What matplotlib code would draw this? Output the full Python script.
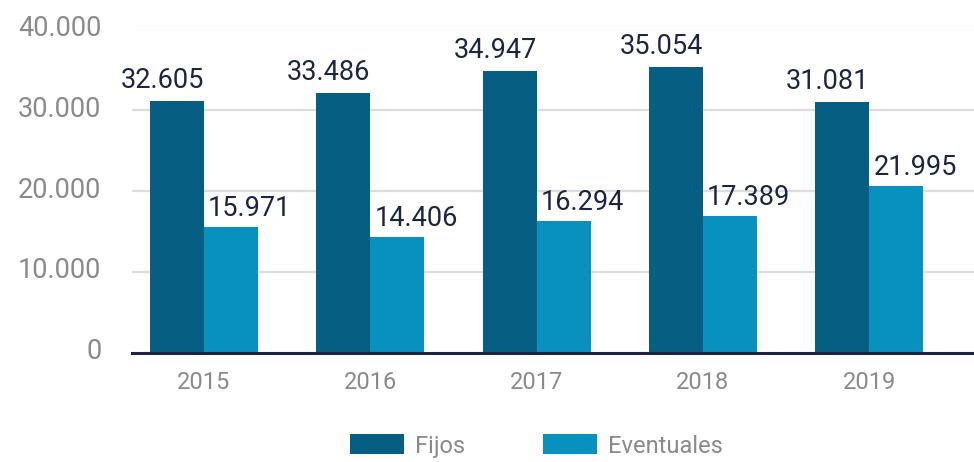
import numpy as np
import matplotlib.pyplot as plt
from matplotlib.ticker import FixedLocator
from matplotlib.transforms import ScaledTranslation

# Data (bar heights as drawn, labels as printed)
years = ['2015', '2016', '2017', '2018', '2019']
fijos_bar = [31170, 32160, 34870, 35370, 31040]
eventuales_bar = [15600, 14370, 16340, 16960, 20670]
fijos_label = ['32.605', '33.486', '34.947', '35.054', '31.081']
eventuales_label = ['15.971', '14.406', '16.294', '17.389', '21.995']
yticks = [0, 10000, 20000, 30000, 40000]
ytick_labels = ['0', '10.000', '20.000', '30.000', '40.000']

c_fijos = '#065e83'
c_event = '#0890bf'
c_navy = '#1b2542'
c_gray = '#8a8a8a'

plt.rcParams['font.family'] = ['Roboto', 'DejaVu Sans']

fig = plt.figure(figsize=(9.74, 4.62), dpi=100)
ax = fig.add_axes([132 / 974, 1 - 353 / 462, 1 - 132 / 974, (353 - 29.5) / 462])

x = np.arange(len(years))
w = 0.325
b1 = ax.bar(x - w / 2, fijos_bar, w, color=c_fijos, label='Fijos', zorder=3)
b2 = ax.bar(x + w / 2, eventuales_bar, w, color=c_event, label='Eventuales', zorder=3)

for i in range(len(years)):
    ax.annotate(fijos_label[i], (x[i], fijos_bar[i]), xytext=(0, 9), textcoords='offset points',
                ha='right', va='baseline', fontsize=19.5, color=c_navy, annotation_clip=False)
    ax.annotate(eventuales_label[i], (x[i], eventuales_bar[i]), xytext=(3, 8), textcoords='offset points',
                ha='left', va='baseline', fontsize=19.5, color=c_navy, annotation_clip=False)

ax.set_xlim(-0.433, 4.63)
ax.set_ylim(0, 40000)
ax.yaxis.set_major_locator(FixedLocator(yticks))
ax.set_yticklabels(ytick_labels)
ax.set_xticks(x)
ax.set_xticklabels(years)
ax.grid(axis='y', color='#dddddd', linewidth=1.6, zorder=0)
ax.set_axisbelow(True)

for s in ['top', 'right', 'left']:
    ax.spines[s].set_visible(False)
ax.spines['bottom'].set_color(c_navy)
ax.spines['bottom'].set_linewidth(2.2)
ax.spines['bottom'].set_zorder(4)

ax.tick_params(axis='y', length=0, pad=22, labelsize=19.5, labelcolor=c_gray)
ax.tick_params(axis='x', length=0, pad=13, labelsize=17, labelcolor=c_gray)
up = ScaledTranslation(0, 3 / 72, fig.dpi_scale_trans)
for lab in ax.get_yticklabels():
    lab.set_verticalalignment('center_baseline')
    lab.set_transform(lab.get_transform() + up)

fig.legend(handles=[b1, b2], loc='center', bbox_to_anchor=(536 / 974, 1 - 446 / 462),
           ncol=2, frameon=False, fontsize=17, labelcolor=c_gray,
           handlelength=2.3, handleheight=0.93, handletextpad=0.45, columnspacing=3.3)

fig.savefig('out.png', dpi=100)
